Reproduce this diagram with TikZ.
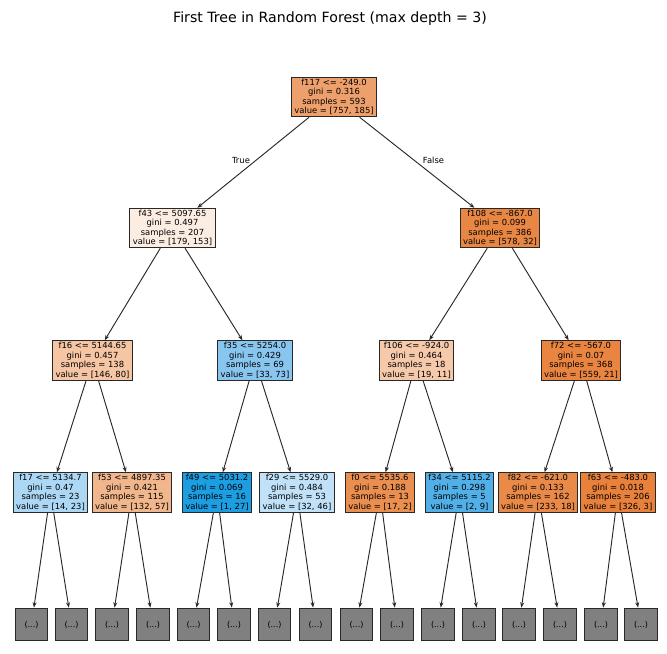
\documentclass[tikz,border=0pt]{standalone}
\usepackage{fontspec}
\setmainfont{DejaVu Sans}
\usepackage{tikz}
\usetikzlibrary{arrows.meta,positioning}
\usepackage{xcolor}
\definecolor{orgroot}{RGB}{238,160,108}
\definecolor{orgf43}{RGB}{252,237,227}
\definecolor{orgf108}{RGB}{232,135,68}
\definecolor{orgf16}{RGB}{245,197,164}
\definecolor{bluf35}{RGB}{136,198,240}
\definecolor{orgf106}{RGB}{246,201,171}
\definecolor{orgf72}{RGB}{233,133,64}
\definecolor{bluf17}{RGB}{172,216,245}
\definecolor{orgf53}{RGB}{242,182,141}
\definecolor{bluf49}{RGB}{28,158,226}
\definecolor{bluf29}{RGB}{192,225,247}
\definecolor{orgf0}{RGB}{234,143,80}
\definecolor{bluf34}{RGB}{82,176,232}
\definecolor{orgf82}{RGB}{233,138,72}
\definecolor{orgf63}{RGB}{231,129,59}
\definecolor{leafgray}{RGB}{128,128,128}
\definecolor{edgeblack}{RGB}{40,40,40}
\tikzstyle{split} = [rectangle, draw=edgeblack, line width=0.8pt, align=center, inner xsep=2.2pt, inner ysep=1.3pt, font=\fontsize{6.3}{7.1}\selectfont]
\tikzstyle{leaf} = [rectangle, draw=edgeblack, line width=0.8pt, fill=leafgray, minimum width=24.5pt, minimum height=24.5pt, inner sep=0pt, font=\fontsize{6}{7}\selectfont]
\tikzstyle{arrow} = [line width=0.7pt, -{Stealth[length=4pt,width=3pt]}, color=edgeblack]
\tikzstyle{edgelabel} = [font=\fontsize{6.3}{7.1}\selectfont, inner sep=0pt]

\begin{document}
\begin{tikzpicture}[x=0.75pt,y=-0.75pt]
\useasboundingbox (0,0) rectangle (667,653);
\node[font=\fontsize{10.6}{12}\selectfont] (title) at (330,19) {First Tree in Random Forest (max depth = 3)};

% depth 0 and 1
\node[split, fill=orgroot] (n0) at (334,97) {f117 <= -249.0\\gini = 0.316\\samples = 593\\value = [757, 185]};
\node[split, fill=orgf43] (n1) at (172.5,228) {f43 <= 5097.65\\gini = 0.497\\samples = 207\\value = [179, 153]};
\node[split, fill=orgf108] (n2) at (500,228) {f108 <= -867.0\\gini = 0.099\\samples = 386\\value = [578, 32]};

% depth 2
\node[split, fill=orgf16] (n11) at (92.5,360.5) {f16 <= 5144.65\\gini = 0.457\\samples = 138\\value = [146, 80]};
\node[split, fill=bluf35] (n12) at (255,360.5) {f35 <= 5254.0\\gini = 0.429\\samples = 69\\value = [33, 73]};
\node[split, fill=orgf106] (n21) at (416.5,360.5) {f106 <= -924.0\\gini = 0.464\\samples = 18\\value = [19, 11]};
\node[split, fill=orgf72] (n22) at (581,360.5) {f72 <= -567.0\\gini = 0.07\\samples = 368\\value = [559, 21]};

% depth 3
\node[split, fill=bluf17] (n111) at (50.5,492.5) {f17 <= 5134.7\\gini = 0.47\\samples = 23\\value = [14, 23]};
\node[split, fill=orgf53] (n112) at (132,492.5) {f53 <= 4897.35\\gini = 0.421\\samples = 115\\value = [132, 57]};
\node[split, fill=bluf49] (n121) at (217,492.5) {f49 <= 5031.2\\gini = 0.069\\samples = 16\\value = [1, 27]};
\node[split, fill=bluf29] (n122) at (297,492.5) {f29 <= 5529.0\\gini = 0.484\\samples = 53\\value = [32, 46]};
\node[split, fill=orgf0] (n211) at (380,492.5) {f0 <= 5535.6\\gini = 0.188\\samples = 13\\value = [17, 2]};
\node[split, fill=bluf34] (n212) at (459.5,492.5) {f34 <= 5115.2\\gini = 0.298\\samples = 5\\value = [2, 9]};
\node[split, fill=orgf82] (n221) at (538,492.5) {f82 <= -621.0\\gini = 0.133\\samples = 162\\value = [233, 18]};
\node[split, fill=orgf63] (n222) at (618,492.5) {f63 <= -483.0\\gini = 0.018\\samples = 206\\value = [326, 3]};

% truncated subtrees
\foreach \nm/\xx in {l1/31.5, l2/71.5, l3/112, l4/153, l5/193.5, l6/234, l7/274.5, l8/315.5,
  l9/356.5, l10/397, l11/438, l12/479, l13/519, l14/560, l15/601, l16/641}
  \node[leaf] (\nm) at (\xx,624.5) {(...)};

% connectors
\draw[arrow] (n0) -- (n1);
\draw[arrow] (n0) -- (n2);
\draw[arrow] (n1) -- (n11);
\draw[arrow] (n1) -- (n12);
\draw[arrow] (n2) -- (n21);
\draw[arrow] (n2) -- (n22);
\draw[arrow] (n11) -- (n111);
\draw[arrow] (n11) -- (n112);
\draw[arrow] (n12) -- (n121);
\draw[arrow] (n12) -- (n122);
\draw[arrow] (n21) -- (n211);
\draw[arrow] (n21) -- (n212);
\draw[arrow] (n22) -- (n221);
\draw[arrow] (n22) -- (n222);
\foreach \pa/\ka/\kb in {n111/l1/l2, n112/l3/l4, n121/l5/l6, n122/l7/l8,
  n211/l9/l10, n212/l11/l12, n221/l13/l14, n222/l15/l16}{
  \draw[arrow] (\pa) -- (\ka);
  \draw[arrow] (\pa) -- (\kb);
}

\node[edgelabel] (lbltrue) at (241,160) {True};
\node[edgelabel] (lblfalse) at (433.5,160) {False};
\end{tikzpicture}
\end{document}
